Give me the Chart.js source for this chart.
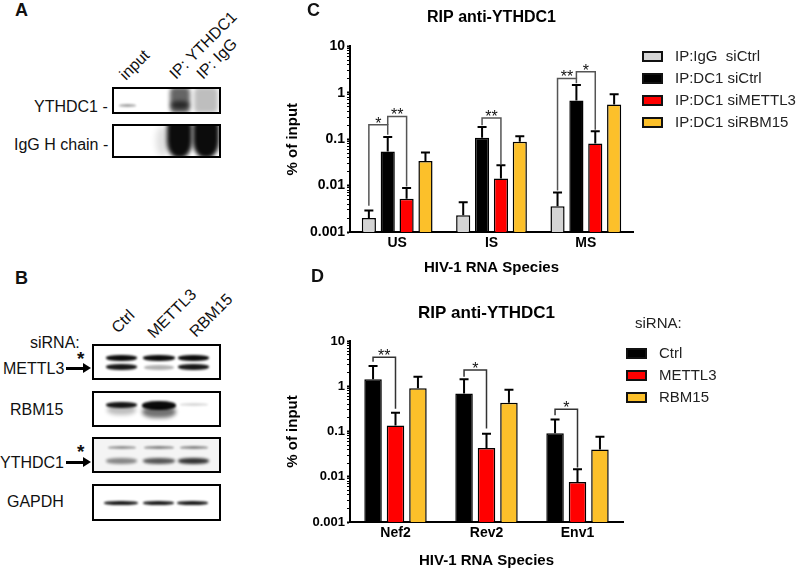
<!DOCTYPE html>
<html>
<head>
<meta charset="utf-8">
<title>RIP anti-YTHDC1</title>
<script src="https://cdn.jsdelivr.net/npm/chart.js@4.4.0/dist/chart.umd.min.js"></script>
<style>
  body { margin:0; width:796px; height:570px; position:relative; overflow:hidden; background:#fff;
         font-family:"Liberation Sans", Arial, sans-serif; color:#111; }
  .panel { position:absolute; font-weight:bold; font-size:18px; }
  .lbl { position:absolute; font-size:16px; white-space:nowrap; line-height:16px; }
  .star { position:absolute; font-size:19px; font-weight:bold; line-height:16px; }
  .rot { position:absolute; font-size:16px; white-space:nowrap; line-height:16px;
         transform-origin:0 100%; transform:rotate(-45deg); }
  .box { position:absolute; box-sizing:border-box; border:2px solid #000; overflow:hidden; background:#fff; }
  .band { position:absolute; background:#000; border-radius:45%; }
  .arrow { position:absolute; height:3px; background:#000; }
  .arrow:after { content:""; position:absolute; right:-7px; top:-4px; border-left:8px solid #000;
                 border-top:5.5px solid transparent; border-bottom:5.5px solid transparent; }
  .legend { position:absolute; font-size:15px; color:#222; white-space:pre; }
  .legend .row { position:absolute; left:0; height:22px; }
  .legend .sw { position:absolute; left:0; width:21px; height:11px; box-sizing:border-box; border:2px solid #111; }
  .legend .tx { position:absolute; line-height:16px; }
  .chartbox { position:absolute; }
</style>
</head>
<body>

<!-- panel A: co-IP blot -->
<div class="panel" style="left:15px;top:0px">A</div>
<div class="rot" style="left:128px;top:67px">input</div>
<div class="rot" style="left:178px;top:66px">IP: YTHDC1</div>
<div class="rot" style="left:205px;top:66px">IP: IgG</div>
<div class="lbl" style="left:34px;top:99px">YTHDC1 -</div>
<div class="lbl" style="left:14px;top:137px">IgG H chain -</div>
<div class="box" style="left:112px;top:87px;width:109px;height:27px">
  <div class="band" style="left:5px;top:15px;width:17px;height:3px;opacity:.35;filter:blur(1px)"></div>
  <div class="band" style="left:56px;top:-2px;width:20px;height:26px;opacity:.6;filter:blur(2px);border-radius:20%"></div>
  <div class="band" style="left:57px;top:12px;width:18px;height:8px;opacity:.6;filter:blur(2px)"></div>
  <div class="band" style="left:80px;top:-2px;width:24px;height:26px;opacity:.25;filter:blur(2px);border-radius:20%"></div>
</div>
<div class="box" style="left:112px;top:124px;width:109px;height:34px">
  <div class="band" style="left:42px;top:0px;width:14px;height:30px;opacity:.12;filter:blur(3px)"></div>
  <div class="band" style="left:53px;top:-6px;width:25px;height:38px;opacity:.95;filter:blur(2px);border-radius:20% 20% 45% 45%"></div>
  <div class="band" style="left:79px;top:-6px;width:26px;height:38px;opacity:.95;filter:blur(2px);border-radius:20% 20% 45% 45%"></div>
</div>

<!-- panel B: knockdown blots -->
<div class="panel" style="left:15px;top:268px">B</div>
<div class="lbl" style="left:30px;top:335px">siRNA:</div>
<div class="rot" style="left:120px;top:320px">Ctrl</div>
<div class="rot" style="left:156px;top:325px">METTL3</div>
<div class="rot" style="left:198px;top:324px">RBM15</div>

<div class="lbl" style="left:3px;top:361px">METTL3</div>
<div class="star" style="left:77px;top:351px">*</div>
<div class="arrow" style="left:66px;top:367px;width:18px"></div>
<div class="lbl" style="left:10px;top:402px">RBM15</div>
<div class="lbl" style="left:0px;top:455px">YTHDC1</div>
<div class="star" style="left:77px;top:444px">*</div>
<div class="arrow" style="left:66px;top:461px;width:18px"></div>
<div class="lbl" style="left:7px;top:494px">GAPDH</div>

<div class="box" style="left:92px;top:344px;width:129px;height:36px">
  <div class="band" style="left:12px;top:9px;width:31px;height:6px;opacity:.95;filter:blur(1px)"></div>
  <div class="band" style="left:49px;top:9px;width:32px;height:6px;opacity:.95;filter:blur(1px)"></div>
  <div class="band" style="left:84px;top:9px;width:31px;height:6px;opacity:.95;filter:blur(1px)"></div>
  <div class="band" style="left:12px;top:18px;width:31px;height:6px;opacity:.9;filter:blur(1px)"></div>
  <div class="band" style="left:50px;top:19px;width:30px;height:5px;opacity:.3;filter:blur(1.2px)"></div>
  <div class="band" style="left:84px;top:18px;width:31px;height:6px;opacity:.9;filter:blur(1px)"></div>
</div>
<div class="box" style="left:92px;top:391px;width:129px;height:36px">
  <div class="band" style="left:12px;top:9px;width:31px;height:6px;opacity:.9;filter:blur(1.2px)"></div>
  <div class="band" style="left:13px;top:12px;width:29px;height:10px;opacity:.25;filter:blur(2px)"></div>
  <div class="band" style="left:48px;top:8px;width:34px;height:9px;opacity:.95;filter:blur(1px)"></div>
  <div class="band" style="left:48px;top:13px;width:34px;height:12px;opacity:.55;filter:blur(2px)"></div>
  <div class="band" style="left:86px;top:10px;width:28px;height:3px;opacity:.15;filter:blur(1.2px)"></div>
</div>
<div class="box" style="left:92px;top:437px;width:129px;height:36px;background:#f4f4f4">
  <div class="band" style="left:14px;top:7px;width:28px;height:3px;opacity:.4;filter:blur(1px)"></div>
  <div class="band" style="left:50px;top:7px;width:30px;height:3px;opacity:.45;filter:blur(1px)"></div>
  <div class="band" style="left:86px;top:7px;width:28px;height:3px;opacity:.45;filter:blur(1px)"></div>
  <div class="band" style="left:12px;top:19px;width:31px;height:6px;opacity:.45;filter:blur(1.5px)"></div>
  <div class="band" style="left:49px;top:19px;width:32px;height:6px;opacity:.65;filter:blur(1.5px)"></div>
  <div class="band" style="left:84px;top:19px;width:31px;height:6px;opacity:.8;filter:blur(1.5px)"></div>
</div>
<div class="box" style="left:92px;top:484px;width:129px;height:37px">
  <div class="band" style="left:10px;top:15px;width:34px;height:4px;opacity:.9;filter:blur(.8px)"></div>
  <div class="band" style="left:49px;top:15px;width:31px;height:4px;opacity:.9;filter:blur(.8px)"></div>
  <div class="band" style="left:83px;top:15px;width:31px;height:4px;opacity:.9;filter:blur(.8px)"></div>
</div>

<!-- panels C and D: charts -->
<div class="chartbox" style="left:280px;top:0px;width:516px;height:282px"><canvas id="chartC"></canvas></div>
<div class="chartbox" style="left:280px;top:285px;width:516px;height:285px"><canvas id="chartD"></canvas></div>
<div class="panel" style="left:307px;top:0px">C</div>
<div class="panel" style="left:311px;top:266px">D</div>
<div class="legend" id="legendC" style="left:642px;top:48px"></div>
<div class="legend" id="legendD" style="left:626px;top:315px"><div class="tx" style="left:9px;top:0px">siRNA:</div></div>

<script>
// ---- panel C data ----
var speciesC = ['US', 'IS', 'MS'];
var seriesC = ['IP:IgG  siCtrl', 'IP:DC1 siCtrl', 'IP:DC1 siMETTL3', 'IP:DC1 siRBM15'];
var igg_mean = [0.0020, 0.0023, 0.0036];
var igg_err = [0.0029, 0.0044, 0.0071];
var dc1Ctrl_mean = [0.054, 0.107, 0.68];
var dc1Ctrl_err = [0.112, 0.183, 1.47];
var dc1Mettl3_mean = [0.0052, 0.0142, 0.081];
var dc1Mettl3_err = [0.0089, 0.0274, 0.148];
var dc1Rbm15_mean = [0.034, 0.088, 0.56];
var dc1Rbm15_err = [0.052, 0.116, 0.93];
// [group, from series, to series, bracket value, left leg end, right leg end, label]
var bracketsC = [
  [0, 0, 1, 0.206, 0.0037, 0.125, '*'],
  [0, 1, 2, 0.31, 0.206, 0.0096, '**'],
  [1, 1, 2, 0.286, 0.2, 0.029, '**'],
  [2, 0, 1, 2.04, 0.0078, 1.6, '**'],
  [2, 1, 2, 2.83, 2.04, 0.16, '*']
];

// ---- panel D data ----
var speciesD = ['Nef2', 'Rev2', 'Env1'];
var seriesD = ['Ctrl', 'METTL3', 'RBM15'];
var ctrl_mean = [1.42, 0.69, 0.092];
var ctrl_err = [2.79, 1.42, 0.184];
var mettl3_mean = [0.136, 0.0434, 0.0077];
var mettl3_err = [0.259, 0.0887, 0.0147];
var rbm15_mean = [0.90, 0.43, 0.040];
var rbm15_err = [1.62, 0.84, 0.077];
var bracketsD = [
  [0, 0, 1, 4.35, 3.49, 0.32, '**'],
  [1, 0, 1, 2.28, 1.62, 0.116, '*'],
  [2, 0, 1, 0.312, 0.23, 0.016, '*']
];

var logTickLabels = ['0.001', '0.01', '0.1', '1', '10'];
var colGray = '#d4d4d4', colBlack = '#000000', colRed = '#ff0000', colYellow = '#fcc02a';

var FONT = '"Liberation Sans", Arial, sans-serif';
Chart.defaults.font.family = FONT;
Chart.defaults.color = '#000';

// error bars (upper only) drawn with the y scale
var errorBars = {
  id: 'errorBars',
  afterDatasetsDraw: function(chart) {
    var ctx = chart.ctx, ys = chart.scales.y;
    chart.data.datasets.forEach(function(ds, i) {
      chart.getDatasetMeta(i).data.forEach(function(bar, j) {
        var top = ys.getPixelForValue(ds.errTop[j]);
        ctx.save();
        ctx.strokeStyle = '#000';
        ctx.lineWidth = 2;
        ctx.beginPath();
        ctx.moveTo(bar.x, bar.y);
        ctx.lineTo(bar.x, top);
        ctx.moveTo(bar.x - 4.5, top);
        ctx.lineTo(bar.x + 4.5, top);
        ctx.stroke();
        ctx.restore();
      });
    });
  }
};

function makeBrackets(list, color) {
  return {
    id: 'brackets',
    afterDatasetsDraw: function(chart) {
      var ctx = chart.ctx, ys = chart.scales.y;
      list.forEach(function(b) {
        var x1 = chart.getDatasetMeta(b[1]).data[b[0]].x;
        var x2 = chart.getDatasetMeta(b[2]).data[b[0]].x;
        var y = ys.getPixelForValue(b[3]);
        ctx.save();
        ctx.strokeStyle = color;
        ctx.lineWidth = 1.5;
        ctx.beginPath();
        ctx.moveTo(x1, ys.getPixelForValue(b[4]));
        ctx.lineTo(x1, y);
        ctx.lineTo(x2, y);
        ctx.lineTo(x2, ys.getPixelForValue(b[5]));
        ctx.stroke();
        ctx.fillStyle = '#111';
        ctx.font = '16px ' + FONT;
        ctx.textAlign = 'center';
        ctx.textBaseline = 'alphabetic';
        ctx.fillText(b[6], (x1 + x2) / 2, y + 4);
        ctx.restore();
      });
    }
  };
}

function yAxis(tickSize) {
  return {
    type: 'logarithmic',
    min: 0.001,
    max: 10,
    afterFit: function(s) { s.width = 70; },
    afterBuildTicks: function(s) {
      s.ticks = s.ticks.filter(function(t) {
        var m = t.value / Math.pow(10, Math.floor(Math.log10(t.value) + 1e-9));
        return Math.abs(m - 1.5) > 1e-6;
      });
    },
    border: { color: '#000', width: 2 },
    grid: {
      drawOnChartArea: false,
      tickLength: 3,
      tickColor: '#000',
      tickWidth: function(c) { return c.tick && c.tick.major ? 2 : 1; }
    },
    ticks: {
      autoSkip: false,
      padding: 2,
      color: '#000',
      font: { size: tickSize, weight: 'bold' },
      callback: function(v) {
        var l = Math.log10(v);
        if (Math.abs(l - Math.round(l)) > 1e-6) return '';
        return logTickLabels[Math.round(l) + 3];
      }
    },
    title: { display: true, text: '% of input', color: '#000',
             font: { size: 15, weight: 'bold' }, padding: { top: 4, bottom: 0 } }
  };
}

function xAxis(height, titlePad) {
  return {
    afterFit: function(s) { s.height = height; },
    border: { color: '#000', width: 2 },
    grid: { display: false, drawTicks: false },
    ticks: { padding: 3, color: '#000', font: { size: 14, weight: 'bold' } },
    title: { display: true, text: 'HIV-1 RNA Species', color: '#000',
             font: { size: 15, weight: 'bold' }, padding: { top: 0, bottom: titlePad } }
  };
}

function ds(label, data, err, color) {
  return { label: label, data: data, errTop: err, backgroundColor: color,
           borderColor: '#000', borderWidth: 1.5, borderSkipped: 'bottom' };
}

var chartC = new Chart(document.getElementById('chartC'), {
  type: 'bar',
  data: {
    labels: speciesC,
    datasets: [
      ds(seriesC[0], igg_mean, igg_err, colGray),
      ds(seriesC[1], dc1Ctrl_mean, dc1Ctrl_err, colBlack),
      ds(seriesC[2], dc1Mettl3_mean, dc1Mettl3_err, colRed),
      ds(seriesC[3], dc1Rbm15_mean, dc1Rbm15_err, colYellow)
    ]
  },
  options: {
    animation: false,
    responsive: true,
    maintainAspectRatio: false,
    devicePixelRatio: 1,
    datasets: { bar: { categoryPercentage: 0.8, barPercentage: 0.75 } },
    layout: { padding: { left: 0, right: 163, top: 0, bottom: 0 } },
    plugins: {
      legend: { display: false },
      tooltip: { enabled: false },
      title: { display: true, text: 'RIP anti-YTHDC1', fullSize: false, color: '#000',
               font: { size: 16, weight: 'bold' }, padding: { top: 7.6, bottom: 19.6 } }
    },
    scales: { x: xAxis(50, 5.6), y: yAxis(14) }
  },
  plugins: [errorBars, makeBrackets(bracketsC, '#555')]
});

var chartD = new Chart(document.getElementById('chartD'), {
  type: 'bar',
  data: {
    labels: speciesD,
    datasets: [
      ds(seriesD[0], ctrl_mean, ctrl_err, colBlack),
      ds(seriesD[1], mettl3_mean, mettl3_err, colRed),
      ds(seriesD[2], rbm15_mean, rbm15_err, colYellow)
    ]
  },
  options: {
    animation: false,
    responsive: true,
    maintainAspectRatio: false,
    devicePixelRatio: 1,
    datasets: { bar: { categoryPercentage: 0.74, barPercentage: 0.78 } },
    layout: { padding: { left: 0, right: 173, top: 0, bottom: 0 } },
    plugins: {
      legend: { display: false },
      tooltip: { enabled: false },
      title: { display: true, text: 'RIP anti-YTHDC1', fullSize: false, color: '#000',
               font: { size: 17, weight: 'bold' }, padding: { top: 18, bottom: 17.6 } }
    },
    scales: { x: xAxis(48, 0.6), y: yAxis(13) }
  },
  plugins: [errorBars, makeBrackets(bracketsD, '#333')]
});

// html legends built from the datasets
function buildLegend(el, chart, top0) {
  chart.data.datasets.forEach(function(d, i) {
    var row = document.createElement('div');
    row.className = 'row';
    row.style.top = (top0 + i * 22) + 'px';
    row.innerHTML = '<div class="sw" style="top:3px;background:' + d.backgroundColor + '"></div>' +
                    '<div class="tx" style="left:33px;top:0px">' + d.label + '</div>';
    el.appendChild(row);
  });
}
buildLegend(document.getElementById('legendC'), chartC, 0);
buildLegend(document.getElementById('legendD'), chartD, 30);
</script>
</body>
</html>
